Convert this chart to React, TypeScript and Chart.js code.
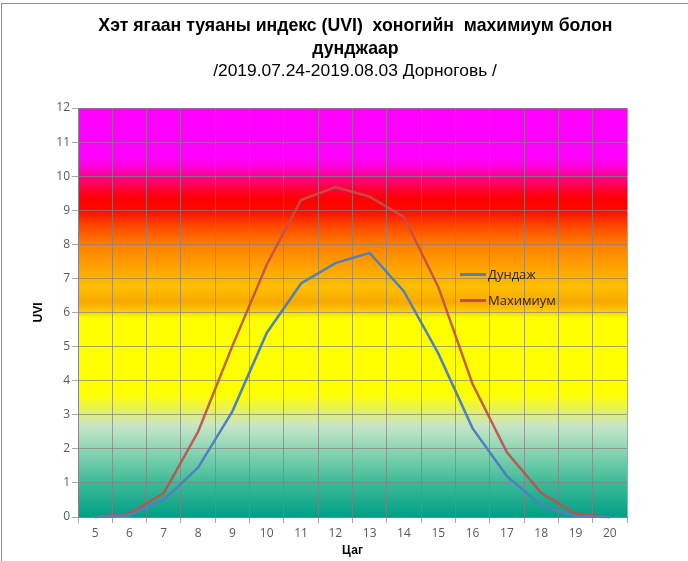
import React, { useEffect, useRef } from "react";
import { Chart, registerables } from "chart.js";
Chart.register(...registerables);

const hours = ["5", "6", "7", "8", "9", "10", "11", "12", "13", "14", "15", "16", "17", "18", "19", "20"];
const avgUvi = [0, 0.05, 0.5, 1.45, 3.1, 5.4, 6.85, 7.45, 7.75, 6.62, 4.8, 2.6, 1.2, 0.33, 0.02, 0];
const maxUvi = [0, 0.1, 0.7, 2.5, 5.02, 7.4, 9.3, 9.68, 9.4, 8.8, 6.75, 3.9, 1.9, 0.7, 0.1, 0];
const seriesNames = ["Дундаж", "Махимиум"];
const titleLines = ["Хэт ягаан туяаны индекс (UVI)  хоногийн  махимиум болон", "дунджаар"];
const subtitleText = "/2019.07.24-2019.08.03 Дорноговь /";
const xTitle = "Цаг";
const yTitle = "UVI";
const yMin = 0;
const yMax = 12;

const bandStops: [number, string][] = [
  [0, "#00A086"],
  [1, "#3CBA98"],
  [2, "#8ED6B4"],
  [2.7, "#C8E6C8"],
  [3.1, "#E4F064"],
  [3.6, "#FFFF00"],
  [5.85, "#FFFF00"],
  [6.0, "#FFD200"],
  [6.3, "#F8A800"],
  [6.75, "#FFC000"],
  [7.3, "#FFA400"],
  [8.0, "#FF7E00"],
  [8.6, "#FF4000"],
  [9.0, "#FF0800"],
  [9.35, "#FF0000"],
  [9.8, "#FF0060"],
  [10.3, "#FF00E0"],
  [10.6, "#FF00FF"],
  [12, "#FF00FF"],
];

const bgPlugin = {
  id: "uvBands",
  beforeDraw(chart: any) {
    const { ctx, chartArea, scales } = chart;
    const y = scales.y;
    const y0 = y.getPixelForValue(yMin);
    const y1 = y.getPixelForValue(yMax);
    const g = ctx.createLinearGradient(0, y0, 0, y1);
    bandStops.forEach(([v, c]) => g.addColorStop((v - yMin) / (yMax - yMin), c));
    ctx.save();
    ctx.fillStyle = g;
    ctx.fillRect(chartArea.left, chartArea.top, chartArea.right - chartArea.left, chartArea.bottom - chartArea.top);
    ctx.restore();
  },
};

const FONT = "'Liberation Sans', Arial, sans-serif";
const LABEL_FONT = "'Open Sans', 'Liberation Sans', sans-serif";

export default function App() {
  const ref = useRef<HTMLCanvasElement | null>(null);
  useEffect(() => {
    if (!ref.current) return;
    const chart = new Chart(ref.current, {
      type: "line",
      data: {
        labels: hours,
        datasets: [
          {
            label: seriesNames[0],
            data: avgUvi,
            borderColor: "#4F81BD",
            backgroundColor: "#4F81BD",
            borderWidth: 2.5,
            pointRadius: 0,
            tension: 0,
            clip: false as any,
          },
          {
            label: seriesNames[1],
            data: maxUvi,
            borderColor: "rgba(192,80,77,0.92)",
            backgroundColor: "#C0504D",
            borderWidth: 2.5,
            pointRadius: 0,
            tension: 0,
            clip: false as any,
          },
        ],
      },
      options: {
        animation: false,
        responsive: false,
        devicePixelRatio: 1,
        layout: { padding: { top: 108, left: 0, right: 61, bottom: 0 } },
        plugins: {
          legend: { display: false },
          title: { display: false },
          tooltip: { enabled: false },
        },
        scales: {
          x: {
            type: "category",
            offset: true,
            grid: {
              offset: true,
              color: "rgba(130,130,130,0.7)",
              lineWidth: 1,
              tickLength: 6,
              drawTicks: true,
            },
            border: { color: "#868686" },
            ticks: { color: "#595959", font: { family: LABEL_FONT, size: 12 }, padding: 3, maxRotation: 0 },
            title: {
              display: true,
              text: xTitle,
              color: "#000",
              font: { family: FONT, size: 12, weight: "bold" },
              padding: { top: 0, bottom: 3 },
            },
            afterFit(scale: any) {
              scale.height = 44;
            },
          },
          y: {
            min: yMin,
            max: yMax,
            ticks: { stepSize: 1, color: "#595959", font: { family: LABEL_FONT, size: 12 }, padding: 2 },
            grid: { color: "rgba(130,130,130,0.7)", lineWidth: 1, tickLength: 6 },
            border: { color: "#868686" },
            title: {
              display: true,
              text: yTitle,
              color: "#000",
              font: { family: FONT, size: 12, weight: "bold" },
              padding: { top: 31, bottom: 0 },
            },
            afterFit(scale: any) {
              scale.width = 78;
            },
          },
        },
      },
      plugins: [bgPlugin],
    });
    return () => chart.destroy();
  }, []);

  const lineStyle = (top: number): React.CSSProperties => ({
    position: "absolute",
    left: 0,
    width: 710,
    top,
    textAlign: "center",
    fontFamily: FONT,
    color: "#000",
    whiteSpace: "pre",
  });

  return (
    <div style={{ position: "absolute", left: 0, top: 0, width: 688, height: 561, overflow: "hidden", background: "#fff" }}>
      <div style={{ position: "absolute", left: 1, top: 3, width: 720, height: 600, border: "1px solid #8E8E8E", boxSizing: "border-box" }} />
      <canvas ref={ref} width={688} height={561} style={{ position: "absolute", left: 0, top: 0 }} />
      <div style={{ ...lineStyle(13), fontWeight: "bold", fontSize: 19, lineHeight: "24px" }}>
        <span style={{ display: "inline-block", transform: "scaleX(0.93)" }}>{titleLines[0]}</span>
      </div>
      <div style={{ ...lineStyle(36), fontWeight: "bold", fontSize: 19, lineHeight: "24px" }}>
        <span style={{ display: "inline-block", transform: "scaleX(0.93)" }}>{titleLines[1]}</span>
      </div>
      <div style={{ ...lineStyle(59), fontSize: 17.4, lineHeight: "22px" }}>
        <span style={{ display: "inline-block" }}>{subtitleText}</span>
      </div>
      <div style={{ position: "absolute", left: 460, top: 261, fontFamily: LABEL_FONT, fontSize: 13, color: "#262626" }}>
        {seriesNames.map((n, i) => (
          <div key={n} style={{ display: "flex", alignItems: "center", height: 26 }}>
            <span style={{ display: "inline-block", width: 26, height: 3, background: i === 0 ? "#4F81BD" : "#C0504D", marginRight: 2 }} />
            <span>{n}</span>
          </div>
        ))}
      </div>
    </div>
  );
}
